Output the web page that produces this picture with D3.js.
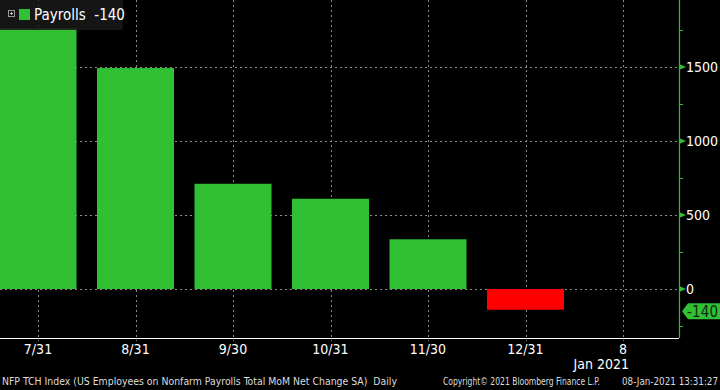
<!DOCTYPE html>
<meta charset="utf-8" />
<script src="https://d3js.org/d3.v7.min.js"></script>
<body style="margin:0;background:#000">
<svg id="chart" width="720" height="390" style="display:block;background:#000"></svg>
<script>
/* data */
const months = ["7/31","8/31","9/30","10/31","11/30","12/31","8"];
const payrolls = [1761, 1493, 711, 610, 336, -140];
const yTicks = [0, 500, 1000, 1500];
const yMinor = [-250, 250, 750, 1250, 1750];
const last = -140;

const W = 720, H = 390, axisX = 679, axisY = 338;
const green = "#31bf34", red = "#ff0000";
const font = "'Liberation Sans Narrow','DejaVu Sans Condensed',sans-serif";

const svg = d3.select("#chart");

const x = d3.scalePoint().domain(months).range([38, 623]);
const barW = x.step()*0.79;
// 0 -> 289, 500 -> 215
const y = d3.scaleLinear().domain([0, 1500]).range([289, 67]);

/* grid */
const grid = svg.append("g").attr("stroke","#8a8a8a").attr("stroke-dasharray","2,3").attr("stroke-width",1);
grid.selectAll("line.h").data(yTicks).join("line")
  .attr("x1",0).attr("x2",axisX).attr("y1",d=>Math.round(y(d))+.5).attr("y2",d=>Math.round(y(d))+.5);
grid.selectAll("line.v").data(months).join("line")
  .attr("x1",d=>Math.round(x(d))+.5).attr("x2",d=>Math.round(x(d))+.5).attr("y1",0).attr("y2",axisY+3);

/* bars */
svg.append("g").selectAll("rect").data(payrolls).join("rect")
  .attr("x",(d,i)=>x(months[i])-barW/2)
  .attr("width",barW)
  .attr("y",d=>y(Math.max(0,d)))
  .attr("height",d=>Math.abs(y(d)-y(0)))
  .attr("fill",d=>d<0?red:green);

/* bottom axis */
svg.append("line").attr("x1",0).attr("x2",axisX).attr("y1",axisY+.5).attr("y2",axisY+.5)
  .attr("stroke","#fff").attr("stroke-width",1.2);
svg.append("g").selectAll("text").data(months).join("text")
  .attr("x",d=>x(d)).attr("y",354).attr("text-anchor","middle")
  .attr("fill","#fff").attr("font-family",font).attr("font-size",14).text(d=>d);
svg.append("text").attr("x",x("8")+6).attr("y",369).attr("text-anchor","end")
  .attr("fill","#fff").attr("font-family",font).attr("font-size",14).text("Jan 2021");

/* right axis */
svg.append("line").attr("x1",axisX+.5).attr("x2",axisX+.5).attr("y1",0).attr("y2",axisY)
  .attr("stroke",green).attr("stroke-width",1.2);
svg.append("g").selectAll("path").data(yTicks).join("path")
  .attr("d",d=>{const yy=y(d);return `M${axisX},${yy-3}L${axisX+7},${yy}L${axisX},${yy+3}Z`;})
  .attr("fill",green);
svg.append("g").selectAll("line").data(yMinor).join("line")
  .attr("x1",axisX).attr("x2",axisX+4).attr("y1",d=>Math.round(y(d))+.5).attr("y2",d=>Math.round(y(d))+.5)
  .attr("stroke",green);
svg.append("g").selectAll("text").data(yTicks).join("text")
  .attr("x",axisX+7).attr("y",d=>y(d)+5).attr("fill","#fff")
  .attr("font-family",font).attr("font-size",14).text(d=>d);

/* last value tag */
const ly = y(last)+1.5;
svg.append("path")
  .attr("d",`M${axisX+3},${ly}L${axisX+9},${ly-8}L${W},${ly-8}L${W},${ly+8}L${axisX+9},${ly+8}Z`)
  .attr("fill",green);
svg.append("text").attr("x",axisX+8).attr("y",ly+5.5).attr("fill","#0d2a0d")
  .attr("font-family",font).attr("font-size",15).attr("textLength",31).text(last);

/* legend */
const lg = svg.append("g");
lg.append("rect").attr("x",-4).attr("y",-4).attr("width",127).attr("height",34).attr("rx",4)
  .attr("fill","rgba(25,25,25,0.85)");
lg.append("rect").attr("x",8.5).attr("y",10.5).attr("width",6).attr("height",6)
  .attr("fill","none").attr("stroke","#999");
lg.append("path").attr("d","M10,13.5h3M11.5,12v3").attr("stroke","#bbb");
lg.append("rect").attr("x",19).attr("y",9).attr("width",11).attr("height",11).attr("fill",green);
lg.append("text").attr("x",34).attr("y",20).attr("fill","#fff")
  .attr("font-family",font).attr("font-size",15).attr("xml:space","preserve").text("Payrolls  " + last);

/* footer */
const foot = svg.append("g").attr("fill","#ddd").attr("font-family",font).attr("font-size",10);
foot.append("text").attr("x",2).attr("y",385).attr("xml:space","preserve").attr("textLength",395)
  .attr("lengthAdjust","spacingAndGlyphs")
  .text("NFP TCH Index (US Employees on Nonfarm Payrolls Total MoM Net Change SA)  Daily");
foot.append("text").attr("x",443).attr("y",385).attr("textLength",157)
  .attr("lengthAdjust","spacingAndGlyphs").text("Copyright© 2021 Bloomberg Finance L.P.");
foot.append("text").attr("x",622).attr("y",385).attr("textLength",96)
  .attr("lengthAdjust","spacingAndGlyphs").text("08-Jan-2021 13:31:27");
</script>
</body>
